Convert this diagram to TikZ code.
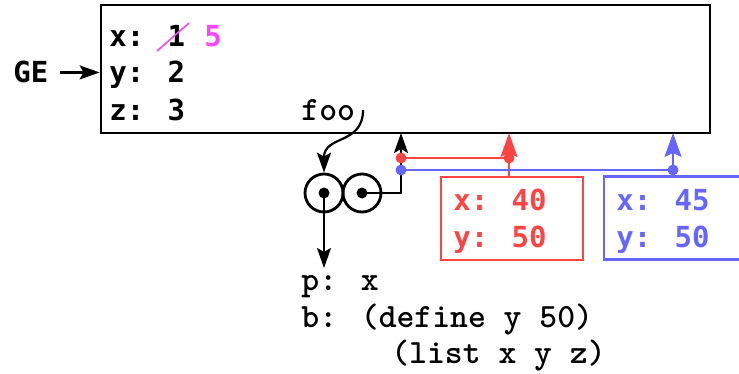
\documentclass[tikz,border=0pt]{standalone}
\usepackage{fontspec}
\newfontfamily\envfont{DejaVu Sans Mono}
\usetikzlibrary{positioning,arrows.meta}
\definecolor{framered}{RGB}{255,68,68}
\definecolor{frameblue}{RGB}{102,102,255}
\definecolor{newval}{RGB}{255,68,255}
\tikzset{
  bind/.style={anchor=base west, inner sep=0pt, font=\envfont\bfseries\fontsize{14.5}{17}\selectfont},
  code/.style={anchor=base west, inner sep=0pt, font=\ttfamily\bfseries\fontsize{17}{20}\selectfont},
  envbox/.style={draw, rectangle, inner sep=0pt},
  cell/.style={draw, circle, minimum size=19pt, inner sep=0pt},
  dot/.style={circle, fill, minimum size=5.5pt, inner sep=0pt},
  tie/.style={line width=.8pt},
  ptr/.style={-{Stealth[length=10pt,width=7pt,inset=2pt]}, line width=1.1pt},
  tap/.style={tie, -{Stealth[length=12pt,width=8.5pt,inset=2pt]}},
}
\begin{document}
\begin{tikzpicture}[x=.5pt, y=-.5pt, line width=1.4pt]
\useasboundingbox (0,0) rectangle (739,374);
% global frame
\node[envbox, minimum width=304.5pt, minimum height=64pt](genv) at (405.5,69){};
\node[bind](gx) at (108,47){x: 1};
\draw[newval, line width=.8pt](157,51)--(189,23);
\node[bind, text=newval](gnew) at (203,47){5};
\node[bind](gy) at (108,83){y: 2};
\node[bind](gz) at (108,121){z: 3};
\node[code](foo) at (300,121){foo};
\node[bind](gelbl) at (12,83){GE};
\draw[ptr]([xshift=5pt]gelbl.east)--(gelbl.east -| genv.west);
% procedure object
\node[cell](pl) at (324,193){};
\node[cell](pr) at (362,193){};
\node[dot](pld) at (pl.center){};
\node[dot](prd) at (pr.center){};
\coordinate (fooptr) at (363,110);
\draw[ptr](fooptr) .. controls (363,145) and (324,135) .. (pl.north);
\coordinate (penv) at (324,268);
\draw[ptr](pld.center)--(penv);
\coordinate (hook) at (401,133);
\draw[ptr](prd.center)-|(hook);
% frames made by calls
\node[envbox, draw=framered, minimum width=71pt, minimum height=41.5pt](rbox) at (512,218.5){};
\node[bind, text=framered](rx) at (452,210){x: 40};
\node[bind, text=framered](ry) at (452,247){y: 50};
\node[envbox, draw=frameblue, minimum width=71pt, minimum height=41.5pt](bbox) at (675,218){};
\node[bind, text=frameblue](bx) at (615,210){x: 45};
\node[bind, text=frameblue](by) at (615,247){y: 50};
\coordinate (rtap) at (509,133);
\coordinate (btap) at (673,133);
\coordinate (rd1) at (401,158);
\coordinate (rd2) at (509,158);
\coordinate (bd1) at (401,170);
\coordinate (bd2) at (673,170);
\draw[framered, tie](rd1)--(rd2);
\draw[framered, tap](rbox.north -| rtap)--(rtap);
\draw[frameblue, tie](bd1)--(bd2);
\draw[frameblue, tap](bbox.north -| btap)--(btap);
\foreach \c/\col in {rd1/framered, rd2/framered, bd1/frameblue, bd2/frameblue}
  \node[dot, fill=\col] at (\c){};
% body text
\node[code](pt) at (300,290){p: x};
\node[code](bt) at (300,327){b: (define y 50)};
\node[code](lt) at (390,363){(list x y z)};
\end{tikzpicture}
\end{document}
